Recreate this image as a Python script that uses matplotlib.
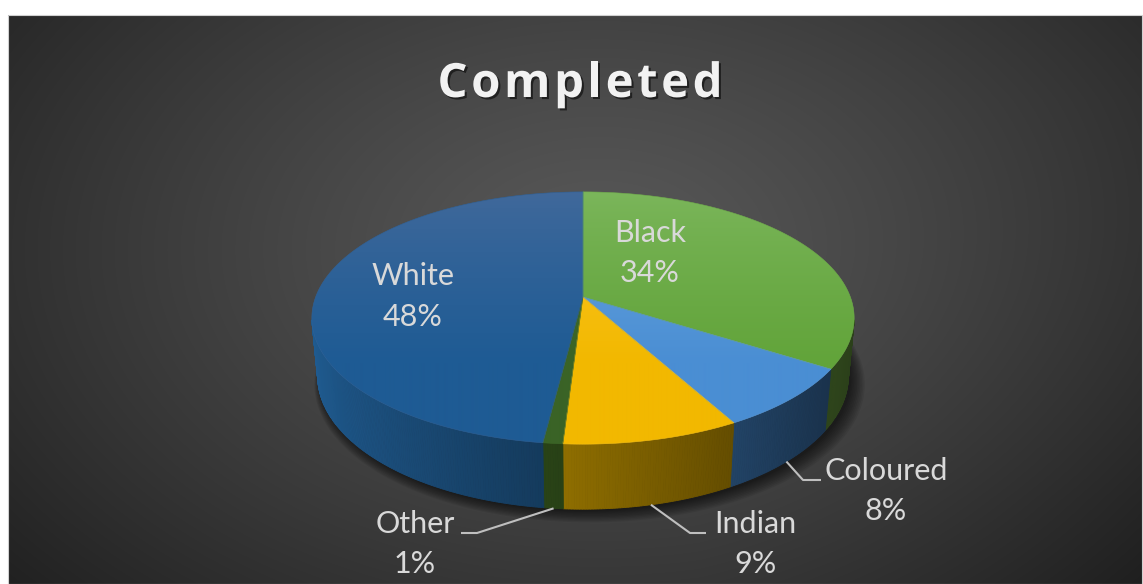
import numpy as np
import matplotlib
matplotlib.use("Agg")
import matplotlib.pyplot as plt
from matplotlib.patches import Polygon
import matplotlib.patheffects as pe
from matplotlib.colors import to_rgb

# ---------------- data ----------------
categories = ["Black", "Coloured", "Indian", "Other", "White"]
values = [34, 8, 9, 1, 48]
pct_labels = ["34%", "8%", "9%", "1%", "48%"]
title = "Completed"

# ---------------- style ----------------
top_light = ["#7bb65b", "#6fa9e1", "#ffcb30", "#44712c", "#41699b"]
top_dark = ["#62a43a", "#4a8ed3", "#f2b800", "#3a6326", "#1e5b94"]
side_base = ["#8fd455", "#4f9cec", "#eab400", "#416a23", "#205d93"]
# label anchor (x, name baseline, pct baseline) and leader elbow/end (None = inside)
label_pos = [(650, 242, 282), (886, 480, 520), (755, 533, 573), (415, 533, 573), (413, 285, 326)]
leader_pts = [None, [(803, 480), (821, 480)], [(690, 533), (706, 533)], [(477, 533), (461, 533)], None]
FONT = "Lato"
TITLE_FONT = "Open Sans"
TXT = "#d9d9d9"

W, H = 1143, 584
fig = plt.figure(figsize=(W / 100, H / 100), dpi=100)
fig.patch.set_facecolor("white")
ax = fig.add_axes([0, 0, 1, 1])
ax.set_xlim(0, W)
ax.set_ylim(H, 0)
ax.axis("off")

# ---------------- background ----------------
x0, y0, x1, y1 = 8, 15, 1142, 584
X, Y = np.meshgrid(np.arange(x0, x1) + 0.5, np.arange(y0, y1) + 0.5)
r = np.sqrt(((X - 600) / 720.0) ** 2 + ((Y - 250) / 470.0) ** 2)
val = 0.345 - 0.195 * np.clip(r, 0, 1.1) ** 1.2
val = val - 0.02 * np.clip((X - 700) / 450.0, 0, 1) * np.clip((Y - 100) / 400.0, 0, 1)
bg = np.dstack([val, val, val])
ax.imshow(bg, extent=[x0, x1, y1, y0], origin="upper", zorder=0, interpolation="bilinear", aspect="auto")
ax.add_patch(Polygon([(x0, y0), (x1, y0), (x1, y1), (x0, y1)], closed=True, fill=False,
                     edgecolor="#d0d0d0", lw=0.8, zorder=0.5))

# ---------------- 3D projection ----------------
phi = np.radians(27.3)
s, c = np.sin(phi), np.cos(phi)
Dcam, fcam = 5.33, 1425.0
cx, cy = 583.0, 297.0
hgt = 0.247


def proj(theta_deg, yv, rad=1.0):
    th = np.radians(theta_deg)
    x = rad * np.sin(th)
    z = -rad * np.cos(th)
    zp = yv * s + z * c
    yp = yv * c - z * s
    d = Dcam - zp
    return cx + fcam * x / d, cy - fcam * yp / d


total = float(sum(values))
bounds = np.concatenate([[0], np.cumsum(values)]) / total * 360.0

# shadow
th_all = np.linspace(0, 360, 361)
for k in range(10):
    rr = 1.0 + 0.004 * k
    pts = [proj(t, -hgt, rr) for t in th_all]
    pts = [(px + 3 + 0.4 * k, py + 2 + 0.5 * k) for px, py in pts]
    ax.add_patch(Polygon(pts, closed=True, facecolor="black", edgecolor="none", alpha=0.07, zorder=1))

# sides
vis_thr = -1.0 / (Dcam * c)


def light(th):
    return 0.3 + 0.35 * (1 + np.cos(np.radians(th - 280)))


for i in range(len(values)):
    a0, a1 = bounds[i], bounds[i + 1]
    n = max(2, int(np.ceil((a1 - a0) / 0.5)))
    ts = np.linspace(a0, a1, n + 1)
    base = np.array(to_rgb(side_base[i]))
    for t1, t2 in zip(ts[:-1], ts[1:]):
        tm = 0.5 * (t1 + t2)
        if np.cos(np.radians(tm)) > vis_thr + 0.03:
            continue
        col = np.clip(base * light(tm), 0, 1)
        quad = [proj(t1, 0), proj(t2, 0), proj(t2, -hgt), proj(t1, -hgt)]
        ax.add_patch(Polygon(quad, closed=True, facecolor=col, edgecolor=col, lw=0.6, zorder=2))

# top faces with vertical gradient
gy = np.linspace(190, 450, 260)
tt = np.clip((gy - 193) / 170.0, 0, 1) ** 0.8
for i in range(len(values)):
    a0, a1 = bounds[i], bounds[i + 1]
    ts = np.linspace(a0, a1, max(3, int((a1 - a0) * 2)))
    pts = [(cx, cy)] + [proj(t, 0) for t in ts]
    poly = Polygon(pts, closed=True, facecolor="none", edgecolor="none", zorder=3)
    ax.add_patch(poly)
    cl = np.array(to_rgb(top_light[i]))
    cd = np.array(to_rgb(top_dark[i]))
    grad = cl[None, :] * (1 - tt[:, None]) + cd[None, :] * tt[:, None]
    img = np.repeat(grad[:, None, :], 2, axis=1)
    im = ax.imshow(img, extent=[300, 870, 450, 190], origin="upper", zorder=3,
                   interpolation="bilinear", aspect="auto")
    im.set_clip_path(poly)
    ax.add_patch(Polygon(pts, closed=True, facecolor="none",
                         edgecolor=tuple((cl + cd) / 2), lw=0.4, zorder=3.1))

# ---------------- labels ----------------
for i in range(len(values)):
    lx, nb, pb = label_pos[i]
    ax.text(lx, nb, categories[i], ha="center", va="baseline", fontsize=22,
            family=FONT, color=TXT, zorder=5)
    ax.text(lx, pb, pct_labels[i], ha="center", va="baseline", fontsize=22,
            family=FONT, color=TXT, zorder=5)
    if leader_pts[i] is not None:
        mid = 0.5 * (bounds[i] + bounds[i + 1])
        sx, sy = proj(mid, -hgt)
        xs = [sx] + [p[0] for p in leader_pts[i]]
        ys = [sy] + [p[1] for p in leader_pts[i]]
        ax.plot(xs, ys, color="#bfbfbf", lw=1.5, zorder=4, solid_capstyle="butt")

# ---------------- title (letter-spaced) ----------------
renderer = fig.canvas.get_renderer()
tkw = dict(fontsize=34, fontweight="bold", family=TITLE_FONT, color="#f2f2f2", va="baseline", ha="left", zorder=6)
tmp = [ax.text(0, 0, ch, **tkw) for ch in title]
widths = [t.get_window_extent(renderer).width for t in tmp]
for t in tmp:
    t.remove()
target_w = 285.0
gap = (target_w - sum(widths)) / (len(title) - 1)
xpos = 580 - target_w / 2
for ch, w in zip(title, widths):
    ax.text(xpos, 97, ch, path_effects=[pe.SimplePatchShadow(offset=(1.5, -1.5), shadow_rgbFace="black", alpha=0.55),
                                        pe.Normal()], **tkw)
    xpos += w + gap

fig.savefig("out.png", dpi=100, facecolor="white")
